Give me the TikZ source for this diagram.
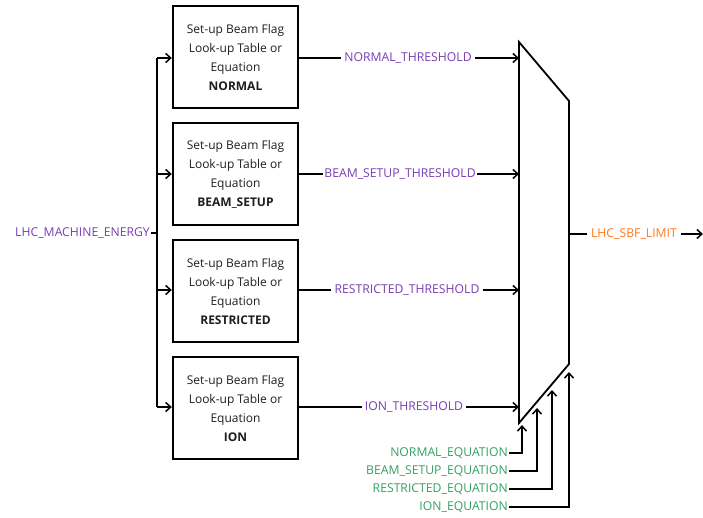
\documentclass[tikz,border=0pt]{standalone}
\usepackage{fontspec}
\setmainfont{Open Sans}
\usetikzlibrary{arrows.meta}
\definecolor{sigpurple}{RGB}{120,62,178}
\definecolor{siggreen}{RGB}{52,160,100}
\definecolor{sigorange}{RGB}{255,120,30}
\definecolor{boxtext}{RGB}{30,30,30}
\begin{document}
\begin{tikzpicture}[x=1pt,y=-1pt,
  lut/.style={draw, line width=2.4pt, minimum width=125pt, minimum height=102pt,
    align=center, font=\fontsize{12}{19}\selectfont, text=boxtext, inner sep=0pt},
  sig/.style={font=\fontsize{12.2}{14}\selectfont, text=sigpurple, inner sep=3pt},
  eqn/.style={font=\fontsize{12.2}{14}\selectfont, text=siggreen, inner sep=1pt, anchor=east},
  wire/.style={line width=1.8pt},
  arr/.style={wire, -{Straight Barb[length=5pt,width=9pt,line width=1.5pt]}}]
\useasboundingbox (0,0) rectangle (703,517);

% look-up table blocks
\node[lut] (bn) at (235.5,57)  {Set-up Beam Flag\\Look-up Table or\\Equation\\\textbf{NORMAL}};
\node[lut] (bb) at (235.5,174) {Set-up Beam Flag\\Look-up Table or\\Equation\\\textbf{BEAM\_SETUP}};
\node[lut] (br) at (235.5,291) {Set-up Beam Flag\\Look-up Table or\\Equation\\\textbf{RESTRICTED}};
\node[lut] (bi) at (235.5,408) {Set-up Beam Flag\\Look-up Table or\\Equation\\\textbf{ION}};

% multiplexer outline
\coordinate (m1) at (519,42);
\coordinate (m2) at (569,101);
\coordinate (m3) at (569,364);
\coordinate (m4) at (519,423);
\draw[wire, line join=miter] (m1) -- (m2) -- (m3) -- (m4) -- cycle;

% energy input bus
\node[sig, anchor=east, inner sep=1pt] (energy) at (151,233) {LHC\_MACHINE\_ENERGY};
\coordinate (busT) at (157,58);
\coordinate (busB) at (157,407);
\draw[wire] (energy.east) -- (157,233);
\draw[wire] (busT) -- (busB);
\draw[arr] (busT) -- (bn.west |- busT);
\draw[arr] (157,174) -- (bb.west);
\draw[arr] (157,290) -- (br.west |- 0,290);
\draw[arr] (busB) -- (bi.west |- busB);

% threshold signals into the multiplexer
\node[sig] (tn) at (408,58)  {NORMAL\_THRESHOLD};
\node[sig, inner sep=1pt] (tb) at (400,174) {BEAM\_SETUP\_THRESHOLD};
\node[sig] (tr) at (407,290) {RESTRICTED\_THRESHOLD};
\node[sig] (ti) at (414,407) {ION\_THRESHOLD};
\draw[wire] (bn.east |- tn) -- (tn.west);
\draw[arr] (tn.east) -- (519,58);
\draw[wire] (bb.east |- tb) -- (tb.west);
\draw[arr] (tb.east) -- (519,174);
\draw[wire] (br.east |- tr) -- (tr.west);
\draw[arr] (tr.east) -- (519,290);
\draw[wire] (bi.east |- ti) -- (ti.west);
\draw[arr] (ti.east) -- (519,407);

% output
\node[sig, text=sigorange, inner sep=4pt] (out) at (634,234) {LHC\_SBF\_LIMIT};
\draw[wire] (569,234) -- (out.west);
\coordinate (outEnd) at (703,234);
\draw[arr] (out.east) -- (outEnd);

% equation select inputs
\node[eqn] (en) at (509,453) {NORMAL\_EQUATION};
\node[eqn] (eb) at (509,471) {BEAM\_SETUP\_EQUATION};
\node[eqn] (er) at (509,489) {RESTRICTED\_EQUATION};
\node[eqn] (ei) at (509,507) {ION\_EQUATION};
\draw[arr] (en.east) -- (522,453) -- (522,425);
\draw[arr] (eb.east) -- (537,471) -- (537,408);
\draw[arr] (er.east) -- (552,489) -- (552,390);
\draw[arr] (ei.east) -- (569,507) -- (569,372);
\end{tikzpicture}
\end{document}
